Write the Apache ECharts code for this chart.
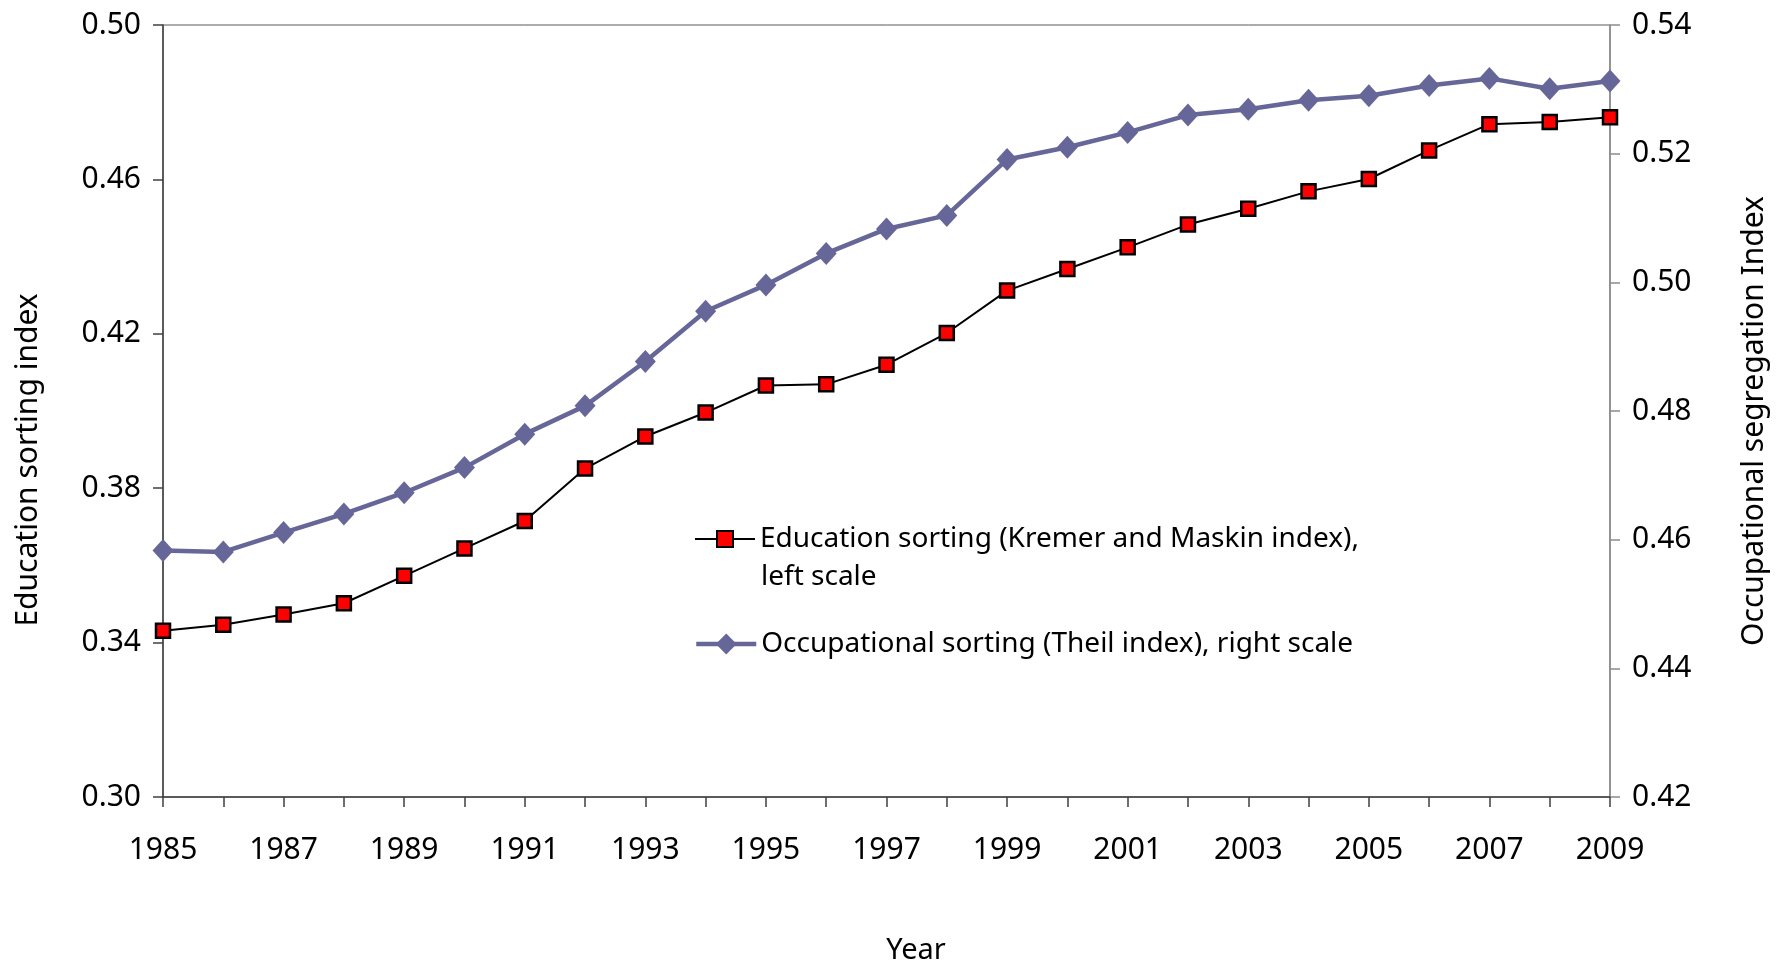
<!DOCTYPE html>
<html>
<head>
<meta charset="utf-8">
<script src="https://cdn.jsdelivr.net/npm/echarts@6/dist/echarts.min.js"></script>
<style>
html,body{margin:0;padding:0;background:#fff;}
#chart{width:1789px;height:967px;}
</style>
</head>
<body>
<div id="chart"></div>
<script>
var years = ['1985','1986','1987','1988','1989','1990','1991','1992','1993','1994','1995','1996','1997','1998','1999','2000','2001','2002','2003','2004','2005','2006','2007','2008','2009'];
var educationSorting = [0.3431,0.3446,0.3473,0.3502,0.3573,0.3644,0.3715,0.3851,0.3934,0.3996,0.4066,0.4069,0.4120,0.4202,0.4312,0.4368,0.4424,0.4483,0.4524,0.4569,0.4601,0.4675,0.4743,0.4749,0.4761];
var occupationalSorting = [0.4583,0.4581,0.4611,0.4640,0.4673,0.4712,0.4764,0.4808,0.4877,0.4955,0.4996,0.5045,0.5083,0.5104,0.5191,0.5210,0.5233,0.5260,0.5269,0.5283,0.5290,0.5306,0.5317,0.5301,0.5313];
var seriesNames = ['Education sorting (Kremer and Maskin index),', 'Occupational sorting (Theil index), right scale'];
var legendSecondLine = 'left scale';
var axisTitles = {left: 'Education sorting index', right: 'Occupational segregation Index', x: 'Year'};

var FONT = 'Noto Sans';
var FS = 28;
var TICK_FS = 30;
var TITLE_FS = 30;
var chart = echarts.init(document.getElementById('chart'), null, {renderer: 'canvas'});
var option = {
  backgroundColor: '#ffffff',
  animation: false,
  textStyle: {fontFamily: FONT},
  grid: {left: 163, right: 179, top: 25, bottom: 170, show: true, borderColor: '#595959', borderWidth: 1},
  legend: [
    {
      data: [seriesNames[0]],
      left: 689, top: 520,
      itemWidth: 60, itemHeight: 20,
      textStyle: {fontFamily: FONT, fontSize: FS, color: '#000'},
      lineStyle: {width: 2},
      selectedMode: false
    },
    {
      data: [seriesNames[1]],
      left: 689, top: 625,
      itemWidth: 60, itemHeight: 26,
      textStyle: {fontFamily: FONT, fontSize: FS, color: '#000'},
      lineStyle: {width: 4.5},
      selectedMode: false
    }
  ],
  xAxis: {
    type: 'category',
    data: years,
    boundaryGap: false,
    axisLine: {lineStyle: {color: '#404040', width: 1.5}},
    axisTick: {show: true, inside: false, length: 10, interval: 0, lineStyle: {color: '#404040', width: 1.5}},
    axisLabel: {interval: 1, margin: 38, color: '#000', fontFamily: FONT, fontSize: TICK_FS},
    splitLine: {show: false}
  },
  yAxis: [
    {
      type: 'value', position: 'left',
      min: 0.30, max: 0.50, interval: 0.04,
      axisLine: {show: true, lineStyle: {color: '#404040', width: 1.5}},
      axisTick: {show: true, inside: false, length: 10, lineStyle: {color: '#404040', width: 1.5}},
      axisLabel: {margin: 22, color: '#000', fontFamily: FONT, fontSize: TICK_FS, formatter: function(v){return v.toFixed(2);}},
      splitLine: {show: false}
    },
    {
      type: 'value', position: 'right',
      min: 0.42, max: 0.54, interval: 0.02,
      axisLine: {show: true, lineStyle: {color: '#8c8c8c', width: 1.5}},
      axisTick: {show: true, inside: false, length: 10, lineStyle: {color: '#8c8c8c', width: 1.5}},
      axisLabel: {margin: 22, color: '#000', fontFamily: FONT, fontSize: TICK_FS, formatter: function(v){return v.toFixed(2);}},
      splitLine: {show: false}
    }
  ],
  graphic: [
    {type: 'text', x: 28, y: 460, rotation: Math.PI/2,
     style: {text: axisTitles.left, font: TITLE_FS + 'px "' + FONT + '"', fill: '#000', textAlign: 'center', textVerticalAlign: 'middle'}},
    {type: 'text', x: 1754, y: 421, rotation: Math.PI/2,
     style: {text: axisTitles.right, font: TITLE_FS + 'px "' + FONT + '"', fill: '#000', textAlign: 'center', textVerticalAlign: 'middle'}},
    {type: 'text', x: 916, y: 951,
     style: {text: axisTitles.x, font: '29px "' + FONT + '"', fill: '#000', textAlign: 'center', textVerticalAlign: 'middle'}},
    {type: 'text', x: 761, y: 577,
     style: {text: legendSecondLine, font: FS + 'px "' + FONT + '"', fill: '#000', textAlign: 'left', textVerticalAlign: 'middle'}}
  ],
  series: [
    {
      name: seriesNames[1],
      type: 'line',
      yAxisIndex: 1,
      data: occupationalSorting,
      symbol: 'diamond',
      symbolSize: [21, 23],
      lineStyle: {color: '#666699', width: 4.5},
      itemStyle: {color: '#666699', borderWidth: 0},
      z: 2
    },
    {
      name: seriesNames[0],
      type: 'line',
      yAxisIndex: 0,
      data: educationSorting,
      symbol: 'rect',
      symbolSize: 14,
      lineStyle: {color: '#000000', width: 2},
      itemStyle: {color: '#ff0000', borderColor: '#000000', borderWidth: 2.5},
      z: 3
    }
  ]
};
chart.setOption(option);
</script>
</body>
</html>
